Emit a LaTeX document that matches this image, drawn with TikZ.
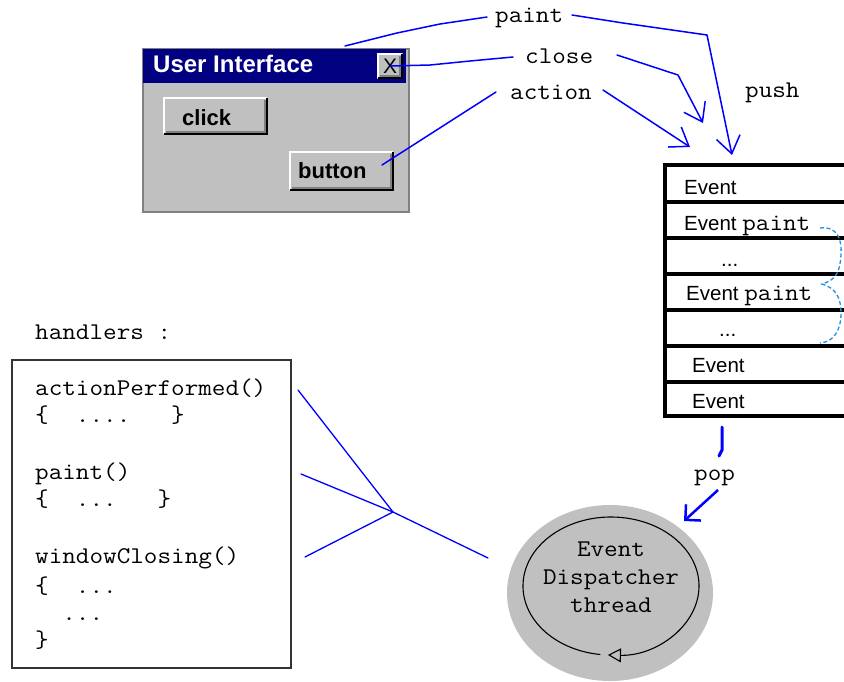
\documentclass[tikz,border=0pt]{standalone}
\usepackage{fontspec}
\setmainfont{Liberation Sans}
\newfontfamily\codefont{Latin Modern Mono}[FakeStretch=1.1]
\usetikzlibrary{arrows.meta}
\definecolor{wingray}{RGB}{192,192,192}
\definecolor{titlenavy}{RGB}{0,0,128}
\definecolor{linkblue}{RGB}{0,0,255}
\definecolor{bracecyan}{RGB}{30,144,230}
\definecolor{btnshadow}{RGB}{128,128,128}

% raised Windows-style button: x1 y1 x2 y2 (pixel units, y down)
\newcommand\raisedpanel[4]{%
  \fill[wingray] (#1,#2) rectangle (#3,#4);
  \draw[white, line width=2pt] (#1+1,#4-1) -- (#1+1,#2+1) -- (#3-1,#2+1);
  \draw[black, line width=2pt] (#1+1,#4-1) -- (#3-1,#4-1) -- (#3-1,#2+1);
  \draw[btnshadow, line width=1.5pt] (#1+3,#4-3) -- (#3-3,#4-3) -- (#3-3,#2+3);
}
\newcommand\codesize{\fontsize{24}{28}\codefont}

\begin{document}
\begin{tikzpicture}[x=1pt,y=-1pt,
  code/.style={font=\codesize, inner sep=0pt, anchor=base west},
  qtext/.style={font=\fontsize{20.5}{22}\selectfont, inner sep=0pt, anchor=base west},
  btntext/.style={font=\fontsize{22}{24}\bfseries, inner sep=0pt, anchor=base west},
  link/.style={draw=linkblue, line width=1.5pt, line join=round, line cap=round},
  barb/.style={-{Straight Barb[length=17pt,width=24pt]}},
  qline/.style={line width=3.8pt},
]
\useasboundingbox (0,0) rectangle (844,681);
\clip (0,0) rectangle (844,681);

% ---------------- user interface window ----------------
\node[fill=wingray, draw=btnshadow, line width=1.5pt, minimum width=266pt,
      minimum height=163pt, inner sep=0pt, anchor=north west] (win) at (142,48) {};
\fill[titlenavy] (143,49) rectangle (406,83);
\node[font=\fontsize{24}{26}\bfseries, text=white, inner sep=0pt, anchor=base west]
  (title) at (153,72) {User Interface};

\raisedpanel{377}{53}{403}{79}
\node[font=\fontsize{21}{22}\selectfont, inner sep=0pt] (closebtn) at (390,66) {X};

\raisedpanel{163}{97}{268}{135}
\node[btntext] (click) at (182,125) {click};

\raisedpanel{289}{151}{394}{191}
\node[btntext] (button) at (298,178) {button};

% ---------------- event labels ----------------
\node[code] (lpaint) at (495,22) {paint};
\node[code] (lclose) at (525,63) {close};
\node[code] (laction) at (510,99) {action};
\node[code] (lpush) at (745,97) {push};

% connector points
\coordinate (winTop) at (345,46);
\coordinate (p1) at (397,33);
\coordinate (p2) at (440,24);
\coordinate (pL) at (487,17);
\coordinate (pR) at (572,15);
\coordinate (p3) at (623,23);
\coordinate (p4) at (707,35);
\coordinate (pTip) at (732,155);

\coordinate (c1) at (430,65);
\coordinate (c2) at (470,61);
\coordinate (cL) at (513,57);
\coordinate (cR) at (617,55);
\coordinate (c3) at (678,75);
\coordinate (cTip) at (703,123);

\coordinate (btnIn) at (382,165);
\coordinate (aL) at (496,92);
\coordinate (aR) at (603,90);
\coordinate (aTip) at (690,147);

\draw[link] (winTop) -- (p1) -- (p2) -- (pL);
\draw[link, barb] (pR) -- (p3) -- (p4) -- (pTip);
\draw[link] (closebtn.center) -- (c1) -- (c2) -- (cL);
\draw[link, barb] (cR) -- (c3) -- (cTip);
\draw[link] (btnIn) -- (aL);
\draw[link, barb] (aR) -- (aTip);

% ---------------- event queue ----------------
\foreach \yy in {165,202,238,274,310,346,382,416}
  \draw[qline] (663,\yy) -- (850,\yy);
\draw[qline] (665,163) -- (665,418);

\node[qtext] (q1) at (684,194) {Event};
\node[qtext] (q2) at (684,230) {Event {\codesize paint}};
\node[qtext] (q3) at (721,266) {...};
\node[qtext] (q4) at (686,300) {Event {\codesize paint}};
\node[qtext] (q5) at (719,336) {...};
\node[qtext] (q6) at (692,372) {Event};
\node[qtext] (q7) at (692,408) {Event};

% brace grouping the paint events
\draw[bracecyan, line width=1.3pt, dash pattern=on 4pt off 2.5pt]
  (820,228) .. controls (838,226) and (842,240) .. (841,255)
  .. controls (840,272) and (836,280) .. (822,284)
  .. controls (836,288) and (841,298) .. (841,313)
  .. controls (841,330) and (834,342) .. (820,343);

% ---------------- dispatcher thread ----------------
\fill[wingray] (610,593) ellipse [x radius=103, y radius=88];
\node[code, anchor=center, align=center] (thread) at (611,577) {Event\\Dispatcher\\thread};
\draw[line width=1.1pt, -{Triangle[open, length=13pt, width=14pt]}]
  (611,586) ++(97:88 and 69) arc[start angle=97, end angle=452, x radius=88, y radius=69];

% pop
\coordinate (qBot) at (722,427);
\coordinate (qBend) at (722,450);
\coordinate (qEnd) at (719,456);
\node[code] (lpop) at (694,480) {pop};
\coordinate (popStart) at (718,490);
\coordinate (popTip) at (684,521);
\draw[linkblue, line width=3pt, line cap=round] (qBot) -- (qBend) -- (qEnd);
\draw[linkblue, line width=2.5pt, -{Straight Barb[length=11pt,width=22pt]}] (popStart) -- (popTip);

% ---------------- handlers ----------------
\node[code] (hdr) at (35,339) {handlers :};
\node[draw=black!80, line width=2pt, minimum width=279pt, minimum height=308pt,
      inner sep=0pt, anchor=north west] (hbox) at (11,359) {};
\node[code] (h1) at (35,395) {actionPerformed()};
\node[code] (h2) at (35,422) {\{\ \ ....\ \ \ \}};
\node[code] (h3) at (35,479) {paint()};
\node[code] (h4) at (35,506) {\{\ \ ...\ \ \ \}};
\node[code] (h5) at (35,563) {windowClosing()};
\node[code] (h6) at (35,593) {\{\ \ ...};
\node[code] (h7) at (35,620) {\ \ ...};
\node[code] (h8) at (35,647) {\}};

% handlers dispatched from the thread
\coordinate (hub) at (393,512);
\coordinate (fA) at (298,390);
\coordinate (fB) at (301,474);
\coordinate (fC) at (305,557);
\coordinate (fD) at (488,558);
\draw[link, line width=1.3pt] (fA) -- (hub);
\draw[link, line width=1.3pt] (fB) -- (hub);
\draw[link, line width=1.3pt] (fC) -- (hub);
\draw[link, line width=1.3pt] (hub) -- (fD);
\end{tikzpicture}
\end{document}
